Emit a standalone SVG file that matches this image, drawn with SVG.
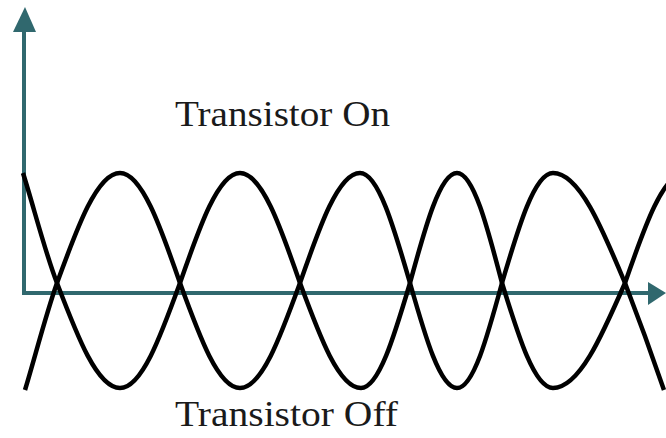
<svg xmlns="http://www.w3.org/2000/svg" width="666" height="438" viewBox="0 0 666 438">
<style>
.axis{fill:none;stroke:#30686e;stroke-width:4;stroke-linejoin:miter}
.head{fill:#30686e}
.wave{fill:none;stroke:#000;stroke-width:4.5;stroke-linejoin:round}
.lbl{font-family:"Liberation Serif","Times New Roman",serif;font-size:35px;fill:#1a1a1a}
</style>
<rect width="666" height="438" fill="#fff"/>
<g id="connectors">
<path class="axis" d="M24,30 V293 H650"/>
<polygon class="head" points="25,7 13,32 36,32"/>
<polygon class="head" points="666,293 648,282 648,305"/>
</g>
<g id="wave-a">
<path class="wave" d="M23,173 C34,208 45,252 57,283 C77.5,336.8 97.2,388 120,388 C141.7,388 160.4,336.8 180,283 C199.6,226.6 218.3,173 240,173 C261.7,173 280.4,226.6 300,283 C319.9,336.8 338.9,388 361,388 C378.7,388 394,336.8 410,283 C425.3,226.6 440,173 457,173 C473.3,173 487.3,226.6 502,283 C518.6,336.8 534.5,388 553,388 C579.1,388 601.5,336.8 625,283 C644.6,226.6 663.3,173 685,173"/>
</g>
<g id="wave-b">
<path class="wave" d="M25,390 C35,357 46,314 57,283 C77.5,226.6 97.2,173 120,173 C141.7,173 160.4,226.6 180,283 C199.6,336.8 218.3,388 240,388 C261.7,388 280.4,336.8 300,283 C319.6,226.6 338.3,173 360,173 C378.1,173 393.7,226.6 410,283 C425.3,336.8 440,388 457,388 C473.3,388 487.3,336.8 502,283 C518.6,226.6 534.5,173 553,173 C579.1,173 601.5,226.6 625,283 C637,314 652,355 664,390"/>
</g>
<g id="label-on">
<text class="lbl" x="175" y="126" textLength="215" lengthAdjust="spacingAndGlyphs">Transistor On</text>
</g>
<g id="label-off">
<text class="lbl" x="175" y="426" textLength="223" lengthAdjust="spacingAndGlyphs">Transistor Off</text>
</g>
</svg>
